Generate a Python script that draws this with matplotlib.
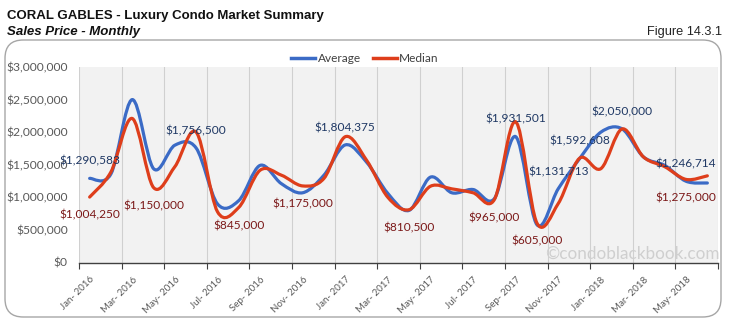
import matplotlib.pyplot as plt
import numpy as np
from matplotlib.path import Path
from matplotlib.patches import PathPatch, FancyBboxPatch
from matplotlib.lines import Line2D
from matplotlib.ticker import FuncFormatter

# Data (monthly, Jan 2016 - Jun 2018)
months = ['Jan', 'Feb', 'Mar', 'Apr', 'May', 'Jun',
          'Jul', 'Aug', 'Sep', 'Oct', 'Nov', 'Dec']
years = [2016, 2017, 2018]
month_labels = [m + '- ' + str(y) for y in years for m in months][:30]

average = [1290583, 1360000, 2500000, 1440000, 1800000, 1756500,
           900000, 950000, 1490000, 1210000, 1070000, 1340000,
           1804375, 1540000, 1060000, 800000, 1310000, 1070000,
           1120000, 980000, 1931501, 580000, 1131713, 1592608,
           2000000, 2050000, 1620000, 1490000, 1246714, 1220000]

median = [1004250, 1390000, 2210000, 1150000, 1470000, 2000000,
          780000, 845000, 1415000, 1340000, 1175000, 1290000,
          1930000, 1570000, 1000000, 810500, 1170000, 1130000,
          1070000, 965000, 2160000, 605000, 905000, 1600000,
          1440000, 2050000, 1620000, 1470000, 1275000, 1330000]

avg_label_idx = [0, 5, 12, 20, 22, 23, 25, 28]
med_label_idx = [0, 3, 7, 10, 15, 19, 21, 28]

BLUE = '#3B6BC6'
RED = '#DE3E1B'
AVG_TXT = '#1F3864'
MED_TXT = '#7B1818'
GRAY = '#595959'

plt.rcParams['font.family'] = ['Lato', 'DejaVu Sans']


def smooth_path(x, y):
    # Catmull-Rom style bezier like Excel's smoothed line
    x = np.asarray(x, float)
    y = np.asarray(y, float)
    px = np.concatenate([[x[0]], x, [x[-1]]])
    py = np.concatenate([[y[0]], y, [y[-1]]])
    verts = [(x[0], y[0])]
    codes = [Path.MOVETO]
    for i in range(1, len(px) - 2):
        c1 = (px[i] + (px[i + 1] - px[i - 1]) / 6, py[i] + (py[i + 1] - py[i - 1]) / 6)
        c2 = (px[i + 1] - (px[i + 2] - px[i]) / 6, py[i + 1] - (py[i + 2] - py[i]) / 6)
        verts += [c1, c2, (px[i + 1], py[i + 1])]
        codes += [Path.CURVE4] * 3
    return Path(verts, codes)


fig = plt.figure(figsize=(7.29, 3.24), dpi=100)

# outer rounded frame
frame = FancyBboxPatch((5 / 729, 7 / 324), 716 / 729, 277 / 324,
                       boxstyle='round,pad=0,rounding_size=0.025',
                       transform=fig.transFigure, facecolor='none',
                       edgecolor='#A6A6A6', linewidth=1.0, mutation_aspect=729 / 324)
fig.patches.append(frame)

fig.text(7 / 729, 1 - 19.5 / 324, 'CORAL GABLES - Luxury Condo Market Summary',
         family='Liberation Sans', fontweight='bold', fontsize=9.5, color='#111111')
fig.text(7 / 729, 1 - 34.5 / 324, 'Sales Price - Monthly', family='Liberation Sans',
         fontweight='bold', fontstyle='italic', fontsize=9.5, color='#111111')
fig.text(722 / 729, 1 - 35.5 / 324, 'Figure 14.3.1', family='Liberation Sans',
         fontsize=9.2, color='#222222', ha='right')

ax = fig.add_axes([79 / 729, 1 - 262.5 / 324, 639 / 729, 195.5 / 324])
ax.set_facecolor('#F2F2F2')
x = np.arange(len(average))

ax.add_patch(PathPatch(smooth_path(x, average), facecolor='none', edgecolor=BLUE,
                       linewidth=2.3, capstyle='round', joinstyle='round', zorder=3))
ax.add_patch(PathPatch(smooth_path(x, median), facecolor='none', edgecolor=RED,
                       linewidth=2.3, capstyle='round', joinstyle='round', zorder=4))


def money(v):
    return '${:,.0f}'.format(v)


for i in avg_label_idx:
    ax.annotate(money(average[i]), (x[i], average[i]), xytext=(0, 12.5),
                textcoords='offset points', ha='center', va='center',
                fontsize=8.6, color=AVG_TXT, zorder=6)
for i in med_label_idx:
    ax.annotate(money(median[i]), (x[i], median[i]), xytext=(0, -13),
                textcoords='offset points', ha='center', va='center',
                fontsize=8.6, color=MED_TXT, zorder=6)

ax.set_xlim(-0.5, len(x) - 0.5)
ax.set_ylim(0, 3000000)
ax.set_yticks(np.arange(0, 3000001, 500000))
ax.yaxis.set_major_formatter(FuncFormatter(lambda v, p: money(v)))
ax.tick_params(axis='y', length=0, labelsize=8.7, labelcolor=GRAY, pad=8)

ax.set_xticks(np.arange(-0.5, len(x), 2))
ax.set_xticks(x[::2], minor=True)
ax.set_xticklabels([], minor=False)
ax.set_xticklabels(month_labels[::2], minor=True, rotation=45, ha='right',
                   rotation_mode='anchor', fontsize=7, color=GRAY)
ax.tick_params(axis='x', which='major', length=4, color='#404040', direction='out')
ax.tick_params(axis='x', which='minor', length=0, pad=9)
ax.grid(axis='x', which='major', color='#D0D0D0', linewidth=0.8)
ax.set_axisbelow(True)
for s in ['left', 'right', 'top']:
    ax.spines[s].set_visible(False)
ax.spines['bottom'].set_color('#404040')
ax.spines['bottom'].set_linewidth(1.0)

ax.text(1.002, 0.045, '\u00a9condoblackbook.com', transform=ax.transAxes, ha='right',
        va='center', fontsize=12.3, color='#CFCFCF', zorder=5)

handles = [Line2D([], [], color=BLUE, lw=2.5), Line2D([], [], color=RED, lw=2.5)]
fig.legend(handles, ['Average', 'Median'], loc='center', bbox_to_anchor=(365 / 729, 1 - 59 / 324),
           ncol=2, frameon=False, fontsize=8.6, handlelength=2.0, handletextpad=0.2,
           columnspacing=1.0, labelcolor='#404040')

fig.savefig('out.png', dpi=100)
